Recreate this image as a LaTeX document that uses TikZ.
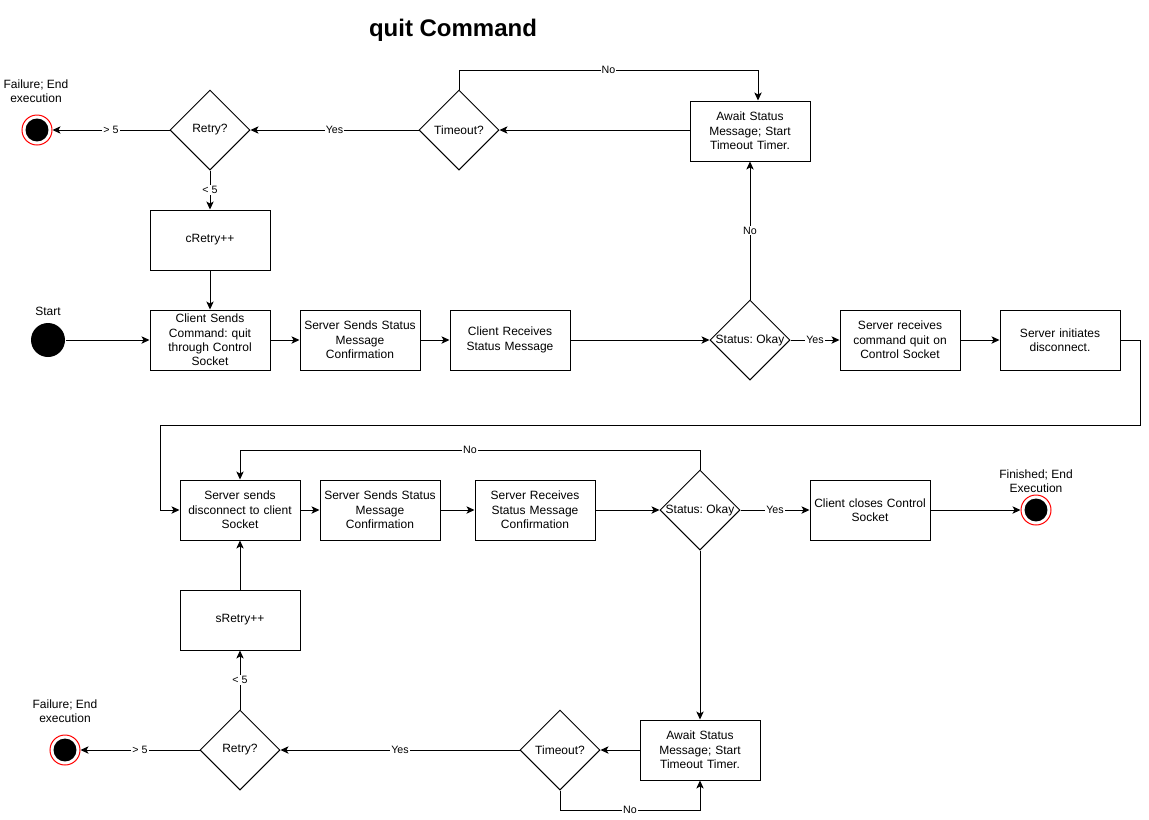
\documentclass[tikz,border=0pt]{standalone}
\usepackage{fontspec}
\setmainfont{Liberation Sans}
\usetikzlibrary{arrows.meta,shapes.geometric}
\frenchspacing
\begin{document}
\begin{tikzpicture}[x=0.75pt,y=-0.75pt,
  font=\fontsize{9}{10.8}\selectfont,
  line width=0.75pt,
  box/.style={draw, rectangle, minimum width=90pt, minimum height=45pt, text width=86pt, inner xsep=2pt, inner ysep=0.5pt, align=center},
  dia/.style={draw, diamond, minimum width=60pt, minimum height=60pt, inner sep=0pt},
  startnode/.style={circle, fill=black, minimum size=25.5pt, inner sep=0pt},
  endnode/.style={circle, draw=red, fill=white, line width=0.75pt, minimum size=22.5pt, inner sep=0pt,
    path picture={\fill[black] (path picture bounding box.center) circle (8.6pt);}},
  arr/.style={-{Stealth[length=6pt,width=5.5pt,inset=1.5pt]}},
  lbl/.style={fill=white, inner sep=0.8pt, font=\fontsize{8}{9}\selectfont},
  txt/.style={align=center, inner sep=0pt}
]
\useasboundingbox (0,0) rectangle (1149,819);

% title
\node[font=\bfseries\fontsize{18}{20}\selectfont, inner sep=0pt] (title) at (453,30) {quit Command};

% top row
\node[endnode] (f1) at (37,130) {};
\node[txt] (f1l) at (36,91) {Failure; End\\execution};
\node[dia, label={center:Retry?}] (r1) at (210,130) {};
\node[dia, label={center:Timeout?}] (t1) at (459,130) {};
\node[box] (a1) at (750,131) {Await Status\\Message; Start\\Timeout Timer.};
\node[box] (cr) at (210,240) {cRetry++};

\node[startnode] (st) at (48,340) {};
\node[txt] (stl) at (48,311) {Start};
\node[box] (cs) at (210,340) {Client Sends\\Command: quit\\through Control\\Socket};
\node[box] (ss1) at (360,340) {Server Sends Status\\Message\\Confirmation};
\node[box] (cre) at (510,340) {Client Receives\\Status Message};
\node[dia, label={center:Status: Okay}] (ok1) at (750,340) {};
\node[box] (srv) at (900,340) {Server receives\\command quit on\\Control Socket};
\node[box] (si) at (1060,340) {Server initiates\\disconnect.};

% second row
\node[box] (sd) at (240,510) {Server sends\\disconnect to client\\Socket};
\node[box] (ss2) at (380,510) {Server Sends Status\\Message\\Confirmation};
\node[box] (sre) at (535,510) {Server Receives\\Status Message\\Confirmation};
\node[dia, label={center:Status: Okay}] (ok2) at (700,510) {};
\node[box] (cc) at (870,510) {Client closes Control\\Socket};
\node[endnode] (fin) at (1036,510) {};
\node[txt] (finl) at (1036,481) {Finished; End\\Execution};

\node[box] (sr) at (240,620) {sRetry++};
\node[dia, label={center:Retry?}] (r2) at (240,750) {};
\node[dia, label={center:Timeout?}] (t2) at (560,750) {};
\node[box] (a2) at (700,750) {Await Status\\Message; Start\\Timeout Timer.};
\node[endnode] (f2) at (65,750) {};
\node[txt] (f2l) at (65,711) {Failure; End\\execution};

% bend coordinates
\coordinate (c1) at (758,70);
\coordinate (w1) at (1140,425);
\coordinate (w2) at (160,425);
\coordinate (c2) at (240,450);
\coordinate (c3) at (700,810);

% top connectors
\draw[arr] (t1.north) |- node[lbl,pos=0.75]{No} (c1) -- (c1 |- a1.north);
\draw[arr] (a1.west |- t1.east) -- (t1.east);
\draw[arr] (t1.west) -- node[lbl]{Yes} (r1.east);
\draw[arr] (r1.west) -- node[lbl]{> 5} (f1.east);
\draw[arr] (r1.south) -- node[lbl]{< 5} (cr.north);
\draw[arr] (cr.south) -- (cs.north);
\draw[arr] (st.east) -- (cs.west);
\draw[arr] (cs.east) -- (ss1.west);
\draw[arr] (ss1.east) -- (cre.west);
\draw[arr] (cre.east) -- (ok1.west);
\draw[arr] (ok1.north) -- node[lbl]{No} (a1.south);
\draw[arr] (ok1.east) -- node[lbl]{Yes} (srv.west);
\draw[arr] (srv.east) -- (si.west);
\draw[arr] (si.east) -| (w1) -- (w2) |- (sd.west);

% second row connectors
\draw[arr] (sd.east) -- (ss2.west);
\draw[arr] (ss2.east) -- (sre.west);
\draw[arr] (sre.east) -- (ok2.west);
\draw[arr] (ok2.north) |- node[lbl,pos=0.75]{No} (c2) -- (sd.north);
\draw[arr] (ok2.east) -- node[lbl]{Yes} (cc.west);
\draw[arr] (cc.east) -- (fin.west);
\draw[arr] (ok2.south) -- (a2.north);
\draw[arr] (a2.west) -- (t2.east);
\draw[arr] (t2.west) -- node[lbl]{Yes} (r2.east);
\draw[arr] (r2.west) -- node[lbl]{> 5} (f2.east);
\draw[arr] (r2.north) -- node[lbl]{< 5} (sr.south);
\draw[arr] (sr.north) -- (sd.south);
\draw[arr] (t2.south) |- node[lbl,pos=0.75]{No} (c3) -- (a2.south);
\end{tikzpicture}
\end{document}
